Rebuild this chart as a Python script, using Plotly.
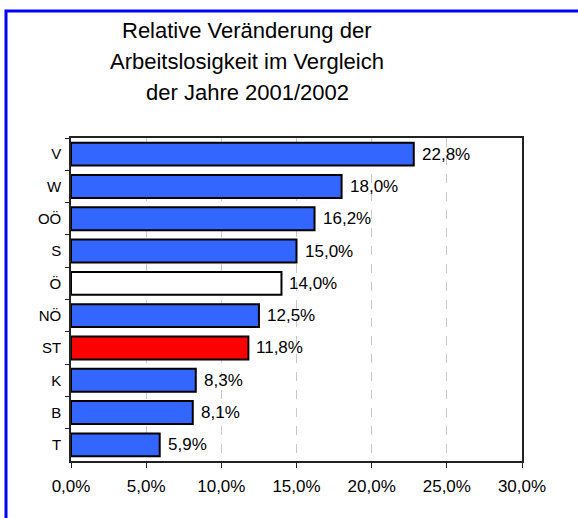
import plotly.graph_objects as go

# Bundesländer, von oben nach unten
regions = ["V", "W", "OÖ", "S", "Ö", "NÖ", "ST", "K", "B", "T"]
change_pct = [22.8, 18.0, 16.2, 15.0, 14.0, 12.5, 11.8, 8.3, 8.1, 5.9]
bar_colors = ["#3366FF", "#3366FF", "#3366FF", "#3366FF", "#FFFFFF",
              "#3366FF", "#FF0000", "#3366FF", "#3366FF", "#3366FF"]
x_ticks = [0, 5, 10, 15, 20, 25, 30]
title_lines = ["Relative Veränderung der",
               "Arbeitslosigkeit im Vergleich",
               "der Jahre 2001/2002"]

font = "Liberation Sans, Arial, sans-serif"


def pct(v):
    return f"{v:.1f}".replace(".", ",") + "%"


fig = go.Figure()
fig.add_trace(go.Bar(
    x=change_pct, y=regions, orientation="h",
    marker=dict(color=bar_colors, line=dict(color="black", width=2)),
    hoverinfo="skip",
))

# Wertbeschriftungen rechts neben den Balken
for v, r in zip(change_pct, regions):
    fig.add_annotation(x=v, y=r, text=pct(v), showarrow=False,
                       xanchor="left", yanchor="middle", xshift=6,
                       font=dict(family=font, size=17, color="black"))

fig.update_layout(
    width=578, height=518,
    margin=dict(l=71, r=56, t=138, b=57),
    paper_bgcolor="white", plot_bgcolor="white",
    showlegend=False, bargap=0.29,
    font=dict(family=font, size=16, color="black"),
)

fig.update_xaxes(
    range=[0, 30], tickvals=x_ticks, ticktext=[pct(t) for t in x_ticks],
    showgrid=True, gridcolor="#c8c8c8", griddash="dash", gridwidth=1,
    showline=True, linecolor="#222222", linewidth=1.5, mirror=True,
    ticks="outside", ticklen=5, tickcolor="#222222",
    zeroline=False, tickfont=dict(size=17), ticklabelstandoff=4,
)
fig.update_yaxes(
    autorange="reversed", tickson="boundaries",
    showline=True, linecolor="#222222", linewidth=1.5, mirror=True,
    ticks="outside", ticklen=4, tickcolor="#222222",
    showgrid=False, tickfont=dict(size=15), ticklabelstandoff=5,
)

# Titel in drei Zeilen
for i, line in enumerate(title_lines):
    fig.add_annotation(text=line, xref="paper", yref="paper",
                       x=(247 - 71) / 451, y=1.334 - i * 0.096,
                       xanchor="center", yanchor="middle", showarrow=False,
                       font=dict(family=font, size=22, color="black"))

# blauer Rahmen
fig.add_shape(type="rect", xref="paper", yref="paper",
              x0=(6 - 71) / 451, x1=1.3, y0=-0.4, y1=(461 - 11) / 323,
              line=dict(color="#0000FF", width=3), layer="below")

fig.write_html("out.html", config={"displayModeBar": False},
               post_script="document.body.style.margin='0';")
